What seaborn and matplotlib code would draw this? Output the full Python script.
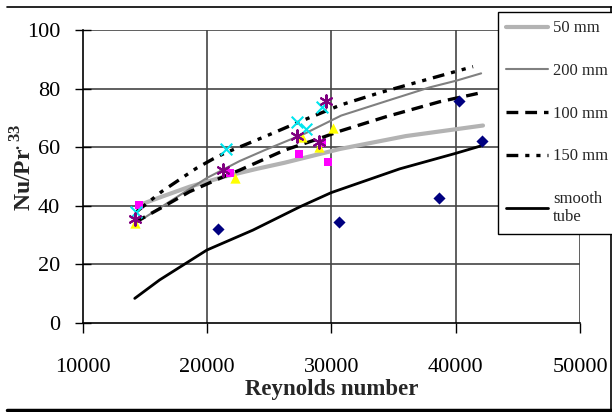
import numpy as np
import pandas as pd
import matplotlib
matplotlib.use("Agg")
import matplotlib.pyplot as plt
import seaborn as sns
from matplotlib.lines import Line2D

sns.set_theme(style="white")
plt.rcParams["font.family"] = ["Liberation Serif", "DejaVu Serif"]
plt.rcParams["mathtext.fontset"] = "custom"
plt.rcParams["mathtext.rm"] = "Liberation Serif"
plt.rcParams["mathtext.bf"] = "Liberation Serif:bold"
plt.rcParams["lines.scale_dashes"] = False

# ---- data ----
re_50 = [14600, 16500, 18600, 21450, 24000, 26250, 30700, 36000, 42200]
nu_50 = [40.3, 43.3, 46.5, 50.0, 52.6, 54.7, 59.4, 63.8, 67.4]

re_200 = [14200, 17000, 20000, 22650, 24650, 27900, 30800, 34700, 37900, 40050, 42050]
nu_200 = [33.8, 41.4, 49.5, 55.3, 59.0, 64.7, 70.8, 76.1, 80.4, 82.7, 85.2]

re_100 = [14200, 16500, 18600, 21050, 22650, 26250, 29200, 30700, 34400, 38700, 42050]
nu_100 = [34.3, 39.7, 44.8, 49.4, 52.2, 59.0, 63.2, 65.5, 70.4, 75.5, 78.6]

re_150 = [14350, 16350, 19150, 20500, 21450, 24650, 27350, 30750, 33900, 37100, 39800, 41400]
nu_150 = [38.0, 44.8, 52.8, 56.0, 58.0, 63.6, 68.5, 74.4, 78.6, 82.4, 85.6, 87.5]

re_smooth = [14200, 16200, 20000, 23700, 27500, 30000, 35500, 40000, 42000]
nu_smooth = [8.4, 14.7, 24.9, 31.7, 39.7, 44.5, 52.6, 57.9, 60.4]

re_diamond = [20900, 30600, 38700, 40250, 42100]
nu_diamond = [32.2, 34.4, 42.6, 75.9, 62.2]

re_square = [14560, 21850, 27400, 29240, 29740]
nu_square = [40.3, 51.1, 57.6, 61.5, 55.1]

re_triangle = [14220, 22300, 27650, 29020, 30150]
nu_triangle = [34.0, 49.4, 63.4, 60.2, 66.4]

re_xmark = [14300, 21500, 27250, 28000, 29260]
nu_xmark = [38.0, 59.3, 68.7, 66.1, 73.6]

re_star = [14220, 21310, 27250, 29020, 29610]
nu_star = [35.4, 52.2, 63.8, 61.9, 75.9]

line_labels = ["50 mm", "200 mm", "100 mm", "150 mm", "smooth\ntube"]
x_ticks = [10000, 20000, 30000, 40000, 50000]
y_ticks = [0, 20, 40, 60, 80, 100]

# ---- figure ----
W, H = 612, 412
fig = plt.figure(figsize=(W / 100, H / 100), dpi=100)
fig.patch.set_facecolor("white")
ax = fig.add_axes([82.5 / W, 1 - 323 / H, (580 - 82.5) / W, (323 - 30) / H])
ax.set_facecolor("white")

# gridlines
for yv in y_ticks[1:]:
    ax.axhline(yv, color="#444444", lw=1.2, zorder=0)
for xv in x_ticks[1:]:
    ax.axvline(xv, color="#444444", lw=1.2, zorder=0)

# lines
specs = [
    (re_50, nu_50, "#b3b3b3", 3.0, "-"),
    (re_200, nu_200, "#808080", 1.5, "-"),
    (re_100, nu_100, "black", 2.4, (0, (8.5, 5))),
    (re_150, nu_150, "black", 2.4, (0, (8.5, 5, 3, 5, 3, 5))),
    (re_smooth, nu_smooth, "black", 2.0, "-"),
]
handles = []
for (xs, ys, col, lw, ls), lab in zip(specs, line_labels):
    df = pd.DataFrame({"Re": xs, "Nu": ys})
    sns.lineplot(data=df, x="Re", y="Nu", ax=ax, color=col, lw=lw,
                 linestyle=ls, estimator=None, sort=False, zorder=3)
    handles.append(Line2D([], [], color=col, lw=lw, linestyle=ls))

# markers
mspecs = [
    (re_diamond, nu_diamond, "D", "#000080", 38, None),
    (re_square, nu_square, "s", "#ff00ff", 38, None),
    (re_triangle, nu_triangle, "^", "#ffff00", 55, None),
    (re_xmark, nu_xmark, "x", "#00e5ee", 70, 1.5),
    (re_star, nu_star, (6, 2, 0), "#800080", 80, 1.5),
]
for xs, ys, mk, col, s, lw in mspecs:
    df = pd.DataFrame({"Re": xs, "Nu": ys})
    if lw:
        sns.scatterplot(data=df, x="Re", y="Nu", ax=ax, marker=mk, color=col,
                        s=s, zorder=4, linewidth=lw)
    else:
        sns.scatterplot(data=df, x="Re", y="Nu", ax=ax, marker=mk, color=col,
                        edgecolor=col, s=s, zorder=4, linewidth=0)

ax.set_xlim(10000, 50000)
ax.set_ylim(0, 100)
ax.set_xticks(x_ticks)
ax.set_yticks(y_ticks)
ax.set_xticklabels([str(v) for v in x_ticks])
ax.set_yticklabels([str(v) for v in y_ticks])
ax.tick_params(axis="x", direction="out", length=7, width=1, colors="black",
               labelsize=16, pad=18, bottom=True)
ax.tick_params(axis="y", direction="inout", length=12, width=1, colors="black",
               labelsize=16, pad=10, left=True)
for sp in ["top", "right"]:
    ax.spines[sp].set_visible(False)
for sp in ["left", "bottom"]:
    ax.spines[sp].set_color("black")
    ax.spines[sp].set_linewidth(1.2)

ax.set_xlabel("Reynolds number", fontsize=16.5, fontweight="bold", labelpad=2)
ax.set_ylabel(r"$\mathbf{Nu/Pr}^{\mathbf{.33}}$", fontsize=17)
ax.yaxis.set_label_coords(-0.092, 0.53)

leg = fig.legend(handles, line_labels, loc="upper left",
                 bbox_to_anchor=(498 / W, 1 - 12 / H), frameon=True,
                 fancybox=False, edgecolor="black", fontsize=12,
                 handlelength=2.5, labelspacing=1.6, borderpad=0.5,
                 handletextpad=0.3, borderaxespad=0, framealpha=1)
leg.get_frame().set_linewidth(1.0)

# page frame lines
fig.add_artist(Line2D([7 / W, 1], [1 - 7 / H, 1 - 7 / H], transform=fig.transFigure,
                      color="black", lw=1.2))
fig.add_artist(Line2D([7 / W, 1], [1 - 410 / H, 1 - 410 / H], transform=fig.transFigure,
                      color="black", lw=2.5))
fig.add_artist(Line2D([611 / W, 611 / W], [1 - 410 / H, 1 - 7 / H],
                      transform=fig.transFigure, color="black", lw=1.2))

fig.savefig("out.png", dpi=100, facecolor="white")
